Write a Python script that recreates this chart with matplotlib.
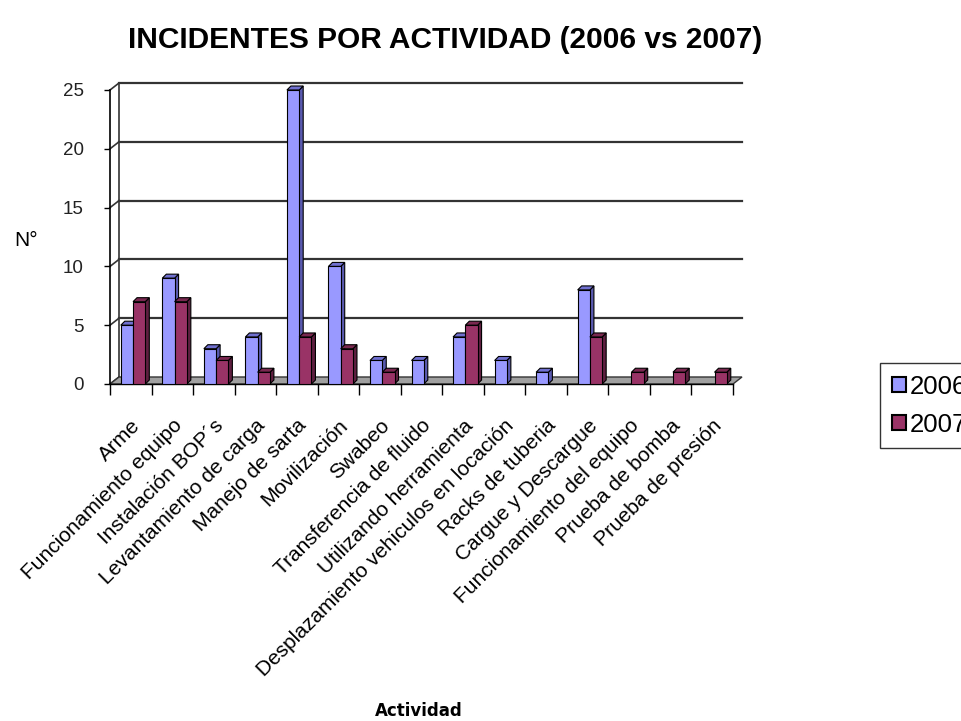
import matplotlib
matplotlib.use('Agg')
from matplotlib import pyplot as plt
from matplotlib.patches import Polygon, Patch

plt.rcParams['font.family'] = ['Liberation Sans', 'DejaVu Sans']

# Data
actividades = [
    'Arme', 'Funcionamiento equipo', 'Instalación BOP´s',
    'Levantamiento de carga', 'Manejo de sarta', 'Movilización', 'Swabeo',
    'Transferencia de fluido', 'Utilizando herramienta',
    'Desplazamiento vehiculos en locación', 'Racks de tuberia',
    'Cargue y Descargue', 'Funcionamiento del equipo', 'Prueba de bomba',
    'Prueba de presión',
]
inc_2006 = [5, 9, 3, 4, 25, 10, 2, 2, 4, 2, 1, 8, 0, 0, 0]
inc_2007 = [7, 7, 2, 1, 4, 3, 1, 0, 5, 0, 0, 4, 1, 1, 1]
y_ticks = [0, 5, 10, 15, 20, 25]

blue, blue_dark, blue_top = '#9999ff', '#5a5ab0', '#7070d0'
red, red_dark, red_top = '#993366', '#5e1f40', '#7a2850'

figure = plt.figure(figsize=(9.62, 7.21), dpi=100)

# front plane: x -0.5..14.5 -> 110..733 px, y 0..25 -> 384..90 px
px_x = 623 / 15.0
px_y = 294 / 25.0
DX = 9 / px_x
DY = 7 / px_y
axes = figure.add_axes([110 / 962, 337 / 721, 632 / 962, 301 / 721])
axes.set_xlim(-0.5, 14.5 + DX)
axes.set_ylim(0, 25 + DY)

# floor and back wall
floor = Polygon([(-0.5, 0), (14.5, 0), (14.5 + DX, DY), (-0.5 + DX, DY)],
                closed=True, facecolor='#a0a0a0', edgecolor='#333333',
                linewidth=1, zorder=1, clip_on=False)
axes.add_patch(floor)
for v in y_ticks[1:]:
    axes.plot([-0.5 + DX, 14.5 + DX], [v + DY, v + DY], color='#333333',
              linewidth=1.6, zorder=0.5, clip_on=False)
for v in y_ticks:
    axes.plot([-0.5, -0.5 + DX], [v, v + DY], color='#333333',
              linewidth=1.2, zorder=0.5, clip_on=False)
axes.plot([-0.5 + DX, -0.5 + DX], [DY, 25 + DY], color='#333333',
          linewidth=1.2, zorder=0.5, clip_on=False)

# bars with a fake 3D side and top
w = 0.295
bx = 4 / px_x
by = 4 / px_y
x = list(range(len(actividades)))
z = 2
for i in x:
    for h, left, face, side, top in [
        (inc_2006[i], i - 0.24, blue, blue_dark, blue_top),
        (inc_2007[i], i + 0.055, red, red_dark, red_top),
    ]:
        if h == 0:
            continue
        axes.add_patch(Polygon(
            [(left + w, 0), (left + w + bx, by), (left + w + bx, h + by),
             (left + w, h)], closed=True, facecolor=side, edgecolor='black',
            linewidth=0.8, zorder=z))
        axes.add_patch(Polygon(
            [(left, h), (left + w, h), (left + w + bx, h + by),
             (left + bx, h + by)], closed=True, facecolor=top,
            edgecolor='black', linewidth=0.8, zorder=z))
        axes.bar(left, h, width=w, align='edge', color=face,
                 edgecolor='black', linewidth=0.8, zorder=z + 0.5)
        z += 1

# axes styling
for name in ['top', 'right', 'bottom']:
    axes.spines[name].set_visible(False)
axes.spines['left'].set_bounds(0, 25)
axes.spines['left'].set_linewidth(1.2)
axes.set_yticks(y_ticks)
axes.tick_params(axis='y', length=4, width=1, pad=15, labelsize=13.5,
                 labelcolor='#222222')
axes.set_xticks(x)
axes.set_xticklabels(actividades, rotation=45, ha='right',
                     rotation_mode='anchor', fontsize=15)
axes.set_xticks([i - 0.5 for i in range(16)], minor=True)
axes.tick_params(axis='x', which='major', length=0, pad=23)
axes.tick_params(axis='x', which='minor', length=8, width=1)
axes.plot([-0.5, 14.5], [0, 0], color='black', linewidth=1, zorder=1.5,
          clip_on=False)

figure.text(445 / 962, 1 - 40 / 721, 'INCIDENTES POR ACTIVIDAD (2006 vs 2007)',
            ha='center', va='center', fontsize=21.5, fontweight='bold')
figure.text(26 / 962, 1 - 240 / 721, 'N°', ha='center', va='center',
            fontsize=15)
figure.text(419 / 962, 1 - 711 / 721, 'Actividad', ha='center',
            va='center', fontsize=12, fontweight='bold',
            family='DejaVu Sans')

handles = [Patch(facecolor=blue, edgecolor='black', linewidth=1.5),
           Patch(facecolor=red, edgecolor='black', linewidth=1.5)]
figure.legend(handles, ['2006', '2007'], loc='upper left',
              bbox_to_anchor=(880 / 962, 1 - 363 / 721), fontsize=18.5,
              frameon=True, fancybox=False, edgecolor='black',
              handlelength=0.55, handleheight=0.55, handletextpad=0.15,
              labelspacing=0.55, borderpad=0.45, borderaxespad=0)

figure.savefig('out.png', dpi=100)
